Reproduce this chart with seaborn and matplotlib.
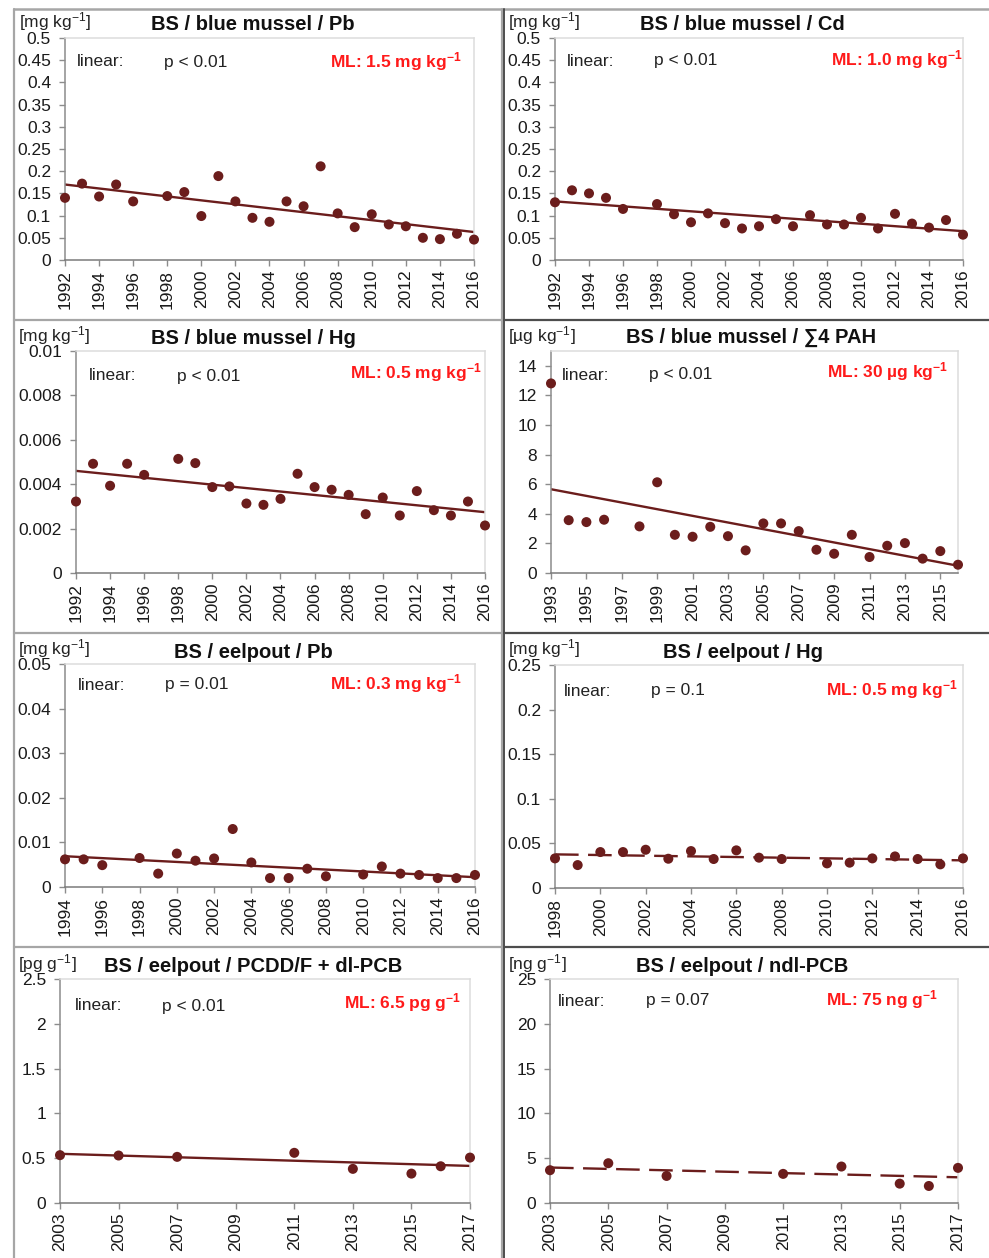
import numpy as np
import pandas as pd
import matplotlib
matplotlib.use("Agg")
import matplotlib.pyplot as plt
import seaborn as sns
from matplotlib.ticker import FuncFormatter, FixedLocator
from matplotlib.lines import Line2D

# ---------------- data ----------------
pb_mussel_years = [1992, 1993, 1994, 1995, 1996, 1998, 1999, 2000, 2001, 2002, 2003, 2004,
                   2005, 2006, 2007, 2008, 2009, 2010, 2011, 2012, 2013, 2014, 2015, 2016]
pb_mussel_vals = [0.140, 0.172, 0.143, 0.170, 0.132, 0.144, 0.153, 0.099, 0.189, 0.132, 0.095, 0.086,
                  0.132, 0.121, 0.211, 0.105, 0.074, 0.103, 0.080, 0.076, 0.050, 0.047, 0.059, 0.046]
pb_mussel_trend = [0.170, 0.063]

cd_mussel_years = pb_mussel_years
cd_mussel_vals = [0.130, 0.157, 0.150, 0.140, 0.115, 0.126, 0.103, 0.085, 0.105, 0.083, 0.071, 0.076,
                  0.092, 0.076, 0.101, 0.080, 0.080, 0.095, 0.071, 0.104, 0.082, 0.073, 0.090, 0.057]
cd_mussel_trend = [0.132, 0.065]

hg_mussel_years = pb_mussel_years
hg_mussel_vals = [0.00322, 0.00492, 0.00393, 0.00492, 0.00442, 0.00514, 0.00495, 0.00387, 0.00390,
                  0.00313, 0.00307, 0.00334, 0.00447, 0.00387, 0.00375, 0.00352, 0.00265, 0.00340,
                  0.00259, 0.00369, 0.00283, 0.00259, 0.00322, 0.00214]
hg_mussel_trend = [0.00460, 0.00274]

pah_mussel_years = [1993, 1994, 1995, 1996, 1998, 1999, 2000, 2001, 2002, 2003, 2004, 2005,
                    2006, 2007, 2008, 2009, 2010, 2011, 2012, 2013, 2014, 2015, 2016]
pah_mussel_vals = [12.81, 3.57, 3.44, 3.60, 3.15, 6.13, 2.58, 2.45, 3.12, 2.49, 1.53, 3.35,
                   3.35, 2.83, 1.57, 1.30, 2.58, 1.08, 1.84, 2.02, 0.97, 1.48, 0.56]
pah_mussel_trend = [5.66, 0.49]

pb_eelpout_years = [1994, 1995, 1996, 1998, 1999, 2000, 2001, 2002, 2003, 2004, 2005,
                    2006, 2007, 2008, 2010, 2011, 2012, 2013, 2014, 2015, 2016]
pb_eelpout_vals = [0.0062, 0.0062, 0.0049, 0.0065, 0.0030, 0.0075, 0.0059, 0.0064, 0.0130, 0.0055,
                   0.0020, 0.0020, 0.0041, 0.0024, 0.0028, 0.0046, 0.0030, 0.0027, 0.0020, 0.0020, 0.0027]
pb_eelpout_trend = [0.0069, 0.0022]

hg_eelpout_years = [1998, 1999, 2000, 2001, 2002, 2003, 2004, 2005, 2006, 2007, 2008,
                    2010, 2011, 2012, 2013, 2014, 2015, 2016]
hg_eelpout_vals = [0.0332, 0.0257, 0.0403, 0.0403, 0.0429, 0.0328, 0.0414, 0.0325, 0.0422, 0.0340,
                   0.0325, 0.0276, 0.0284, 0.0332, 0.0354, 0.0325, 0.0265, 0.0332]
hg_eelpout_trend = [0.0377, 0.0310]

pcdd_eelpout_years = [2003, 2005, 2007, 2011, 2013, 2015, 2016, 2017]
pcdd_eelpout_vals = [0.534, 0.530, 0.515, 0.560, 0.381, 0.328, 0.410, 0.507]
pcdd_eelpout_trend = [0.549, 0.414]

ndl_eelpout_years = [2003, 2005, 2007, 2011, 2013, 2015, 2016, 2017]
ndl_eelpout_vals = [3.66, 4.44, 3.02, 3.25, 4.07, 2.16, 1.90, 3.92]
ndl_eelpout_trend = [3.96, 2.87]

titles = ["BS / blue mussel / Pb", "BS / blue mussel / Cd", "BS / blue mussel / Hg",
          "BS / blue mussel / \u22114 PAH", "BS / eelpout / Pb", "BS / eelpout / Hg",
          "BS / eelpout / PCDD/F + dl-PCB", "BS / eelpout / ndl-PCB"]
units = ["[mg kg$^{-1}$]", "[mg kg$^{-1}$]", "[mg kg$^{-1}$]", "[\u00b5g kg$^{-1}$]",
         "[mg kg$^{-1}$]", "[mg kg$^{-1}$]", "[pg g$^{-1}$]", "[ng g$^{-1}$]"]
p_labels = ["p < 0.01", "p < 0.01", "p < 0.01", "p < 0.01", "p = 0.01", "p = 0.1", "p < 0.01", "p = 0.07"]
ml_values = ["1.5 mg kg", "1.0 mg kg", "0.5 mg kg", "30 \u00b5g kg", "0.3 mg kg", "0.5 mg kg",
             "6.5 pg g", "75 ng g"]
significant = [True, True, True, True, True, False, True, False]

series = [
    (pb_mussel_years, pb_mussel_vals, pb_mussel_trend),
    (cd_mussel_years, cd_mussel_vals, cd_mussel_trend),
    (hg_mussel_years, hg_mussel_vals, hg_mussel_trend),
    (pah_mussel_years, pah_mussel_vals, pah_mussel_trend),
    (pb_eelpout_years, pb_eelpout_vals, pb_eelpout_trend),
    (hg_eelpout_years, hg_eelpout_vals, hg_eelpout_trend),
    (pcdd_eelpout_years, pcdd_eelpout_vals, pcdd_eelpout_trend),
    (ndl_eelpout_years, ndl_eelpout_vals, ndl_eelpout_trend),
]

# axis settings
y_ranges = [(0, 0.5, 0.05), (0, 0.5, 0.05), (0, 0.01, 0.002), (0, 15, 2),
            (0, 0.05, 0.01), (0, 0.25, 0.05), (0, 2.5, 0.5), (0, 25, 5)]
x_ranges = [(1992, 2016), (1992, 2016), (1992, 2016), (1993, 2016),
            (1994, 2016), (1998, 2016), (2003, 2017), (2003, 2017)]

# ---------------- layout (pixels) ----------------
W, H = 989, 1258
axes_px = [(65, 38, 474, 260), (555, 38, 963, 260),
           (76, 351, 485, 573), (551, 351, 958, 573),
           (65, 664, 475, 887), (555, 665, 963, 888),
           (60, 979, 470, 1203), (550, 979, 958, 1203)]
title_px = [(253, 25), (742, 25), (253, 338), (751, 337),
            (253, 652), (743, 652), (253, 967), (742, 967)]
unit_px = [(19, 22), (508, 22), (18, 336), (508, 336),
           (18, 649), (508, 649), (18, 964), (508, 964)]
linear_px = [(77, 62), (567, 61), (89, 376), (562, 375),
             (78, 685), (564, 691), (75, 1006), (558, 1001)]
p_px = [(164, 62), (654, 61), (177, 376), (649, 375),
        (165, 685), (651, 691), (162, 1006), (646, 1001)]
ml_px = [(461, 60), (962, 58), (481, 371), (948, 370),
         (461, 682), (957, 688), (461, 1001), (938, 998)]

COLOR = "#6b1d1c"

sns.set_theme(style="white")
plt.rcParams["font.family"] = ["Liberation Sans", "DejaVu Sans"]
plt.rcParams["mathtext.fontset"] = "custom"
plt.rcParams["mathtext.rm"] = "Liberation Sans"
plt.rcParams["mathtext.bf"] = "Liberation Sans:bold"
plt.rcParams["mathtext.it"] = "Liberation Sans:italic"
plt.rcParams["mathtext.default"] = "regular"

fig = plt.figure(figsize=(W / 100, H / 100), dpi=100)
fig.patch.set_facecolor("white")


def fx(x):
    return x / W


def fy(y):
    return 1 - y / H


fmt = FuncFormatter(lambda v, p: f"{np.round(v, 6):g}")

for i in range(8):
    l, t, r, b = axes_px[i]
    ax = fig.add_axes([fx(l), fy(b), (r - l) / W, (b - t) / H])
    yrs, vals, trend = series[i]
    df = pd.DataFrame({"year": yrs, "value": vals})
    x0, x1 = x_ranges[i]
    tdf = pd.DataFrame({"year": [yrs[0], yrs[-1]], "value": trend})
    ls = "-" if significant[i] else (0, (10, 4))
    sns.lineplot(data=tdf, x="year", y="value", ax=ax, color=COLOR, lw=1.7,
                 linestyle=ls, estimator=None, sort=False, zorder=2)
    sns.scatterplot(data=df, x="year", y="value", ax=ax, color=COLOR, s=52,
                    edgecolor="none", linewidth=0, zorder=3, clip_on=False)
    ylo, yhi, ystep = y_ranges[i]
    ax.set_xlim(x0, x1)
    ax.set_ylim(ylo, yhi)
    yt = np.arange(ylo, yhi + ystep * 0.01, ystep)
    yt = yt[yt <= yhi + 1e-12]
    if i == 3:
        yt = np.arange(0, 15, 2)
    ax.yaxis.set_major_locator(FixedLocator(yt))
    ax.yaxis.set_major_formatter(fmt)
    ax.xaxis.set_major_locator(FixedLocator(list(range(x0, x1 + 1, 2))))
    ax.set_xlabel("")
    ax.set_ylabel("")
    for lab in ax.get_xticklabels():
        lab.set_rotation(90)
    ax.tick_params(axis="both", direction="out", length=4, width=1, color="#8c8c8c",
                   labelsize=12.5, labelcolor="#1a1a1a", left=True, bottom=True)
    ax.tick_params(axis="y", pad=6)
    ax.tick_params(axis="x", pad=3)
    ax.spines["left"].set_color("#8c8c8c")
    ax.spines["bottom"].set_color("#7a7a7a")
    ax.spines["top"].set_color("#dcdcdc")
    ax.spines["right"].set_color("#dcdcdc")
    for sp in ax.spines.values():
        sp.set_linewidth(1.1)
    ax.set_facecolor("white")

    # texts
    fig.text(fx(title_px[i][0]), fy(title_px[i][1]), titles[i], ha="center", va="center",
             fontsize=14.5, fontweight="bold", color="#111111")
    fig.text(fx(unit_px[i][0]), fy(unit_px[i][1]), units[i], ha="left", va="center",
             fontsize=12.5, color="#222222")
    fig.text(fx(linear_px[i][0]), fy(linear_px[i][1]), "linear:", ha="left", va="center",
             fontsize=12.5, color="#222222")
    fig.text(fx(p_px[i][0]), fy(p_px[i][1]), p_labels[i], ha="left", va="center",
             fontsize=12.5, color="#222222")
    fig.text(fx(ml_px[i][0]), fy(ml_px[i][1] + 2), "ML: " + ml_values[i] + r"$^{\mathbf{-1}}$",
             ha="right", va="center", fontsize=12.5, fontweight="bold", color="#ff1a1a")

# panel borders
light = "#a6a6a6"
dark = "#4d4d4d"


def hline(y, xa, xb, c, lw=1.5):
    fig.add_artist(Line2D([fx(xa), fx(xb)], [fy(y), fy(y)], color=c, lw=lw))


def vline(x, ya, yb, c, lw=1.5):
    fig.add_artist(Line2D([fx(x), fx(x)], [fy(ya), fy(yb)], color=c, lw=lw))


hline(9, 14, 989, light, 1.8)
vline(14, 9, 1258, light, 1.6)
for yy in (320, 633, 947):
    hline(yy, 14, 502, light, 1.6)
    hline(yy, 502, 989, dark, 1.6)
vline(502, 9, 1258, light, 1.6)
vline(504, 9, 1258, dark, 1.4)

fig.savefig("out.png", dpi=100, facecolor="white")
